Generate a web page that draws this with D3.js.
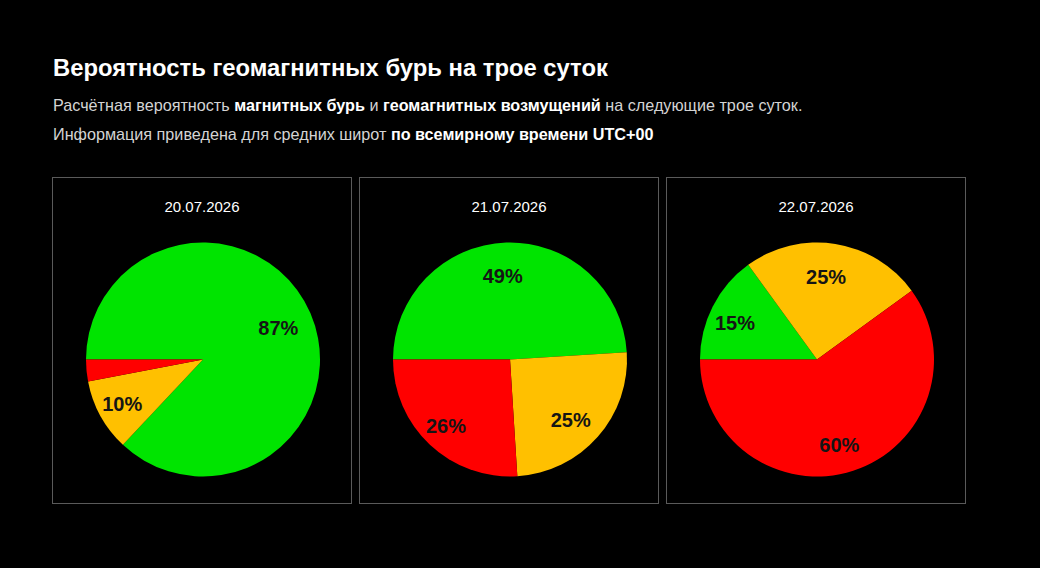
<!DOCTYPE html>
<html>
<head>
<meta charset="utf-8">
<script src="https://cdn.jsdelivr.net/npm/d3@7"></script>
<style>
  html, body { margin: 0; padding: 0; background: #000; }
  svg text { font-family: Arial, "Liberation Sans", sans-serif; }
</style>
</head>
<body>
<div id="chart"></div>
<script>
// Data
var dates = ["20.07.2026", "21.07.2026", "22.07.2026"];
var categories = ["quiet", "disturbance", "storm"];
var quietValues = [87, 49, 15];
var disturbanceValues = [10, 25, 25];
var stormValues = [3, 26, 60];
var colors = ["#00e400", "#ffc000", "#ff0000"];

var width = 1040, height = 568;

var svg = d3.select("#chart")
    .append("svg")
    .attr("width", width)
    .attr("height", height);

// Title and description
svg.append("text")
    .attr("x", 53)
    .attr("y", 76)
    .attr("fill", "#fff")
    .style("font-size", "23.8px")
    .style("font-weight", "bold")
    .text("Вероятность геомагнитных бурь на трое суток");

var line1 = svg.append("text")
    .attr("x", 53)
    .attr("y", 111)
    .attr("fill", "#d4d4d4")
    .style("font-size", "16.2px");
line1.append("tspan").text("Расчётная вероятность ");
line1.append("tspan").attr("fill", "#fff").style("font-weight", "bold").text("магнитных бурь");
line1.append("tspan").text(" и ");
line1.append("tspan").attr("fill", "#fff").style("font-weight", "bold").text("геомагнитных возмущений");
line1.append("tspan").text(" на следующие трое суток.");

var line2 = svg.append("text")
    .attr("x", 53)
    .attr("y", 140)
    .attr("fill", "#d4d4d4")
    .style("font-size", "16.2px");
line2.append("tspan").text("Информация приведена для средних широт ");
line2.append("tspan").attr("fill", "#fff").style("font-weight", "bold").text("по всемирному времени UTC+00");

// Panels
var x = d3.scaleBand()
    .domain(dates)
    .range([52, 52 + 3 * 300 + 2 * 7])
    .paddingInner(7 / 307);

var color = d3.scaleOrdinal().domain(categories).range(colors);

var pie = d3.pie()
    .sort(null)
    .value(function (d) { return d.value; })
    .startAngle(-Math.PI / 2)
    .endAngle(3 * Math.PI / 2);

var radius = 117;
var arc = d3.arc().innerRadius(0).outerRadius(radius);
var labelArc = d3.arc().innerRadius(87).outerRadius(87);

var panels = svg.selectAll("g.panel")
    .data(dates)
    .enter()
    .append("g")
    .classed("panel", true)
    .attr("transform", function (d) { return "translate(" + x(d) + ",177)"; });

panels.append("rect")
    .attr("x", 0.5)
    .attr("y", 0.5)
    .attr("width", x.bandwidth() - 1)
    .attr("height", 326)
    .attr("fill", "none")
    .attr("stroke", "#5a5a5a");

panels.append("text")
    .attr("x", x.bandwidth() / 2)
    .attr("y", 35)
    .attr("text-anchor", "middle")
    .attr("fill", "#fff")
    .style("font-size", "15px")
    .text(function (d) { return d; });

var pies = panels.append("g")
    .attr("transform", "translate(" + (x.bandwidth() / 2 + 1) + ",182.5)");

var slices = pies.selectAll("g.slice")
    .data(function (d, i) {
        return pie([
            {key: categories[0], value: quietValues[i]},
            {key: categories[1], value: disturbanceValues[i]},
            {key: categories[2], value: stormValues[i]}
        ]);
    })
    .enter()
    .append("g")
    .classed("slice", true);

slices.append("path")
    .attr("d", arc)
    .attr("fill", function (d) { return color(d.data.key); });

// labels sit a bit left and below the centroid, like the original
slices.filter(function (d) { return d.data.value >= 5; })
    .append("text")
    .attr("transform", function (d) {
        var c = labelArc.centroid(d);
        return "translate(" + (c[0] - 4.5) + "," + (c[1] + 3) + ")";
    })
    .attr("text-anchor", "middle")
    .attr("dy", "0.35em")
    .attr("fill", "#151515")
    .style("font-size", "20px")
    .style("font-weight", "bold")
    .text(function (d) { return d.data.value + "%"; });
</script>
</body>
</html>
